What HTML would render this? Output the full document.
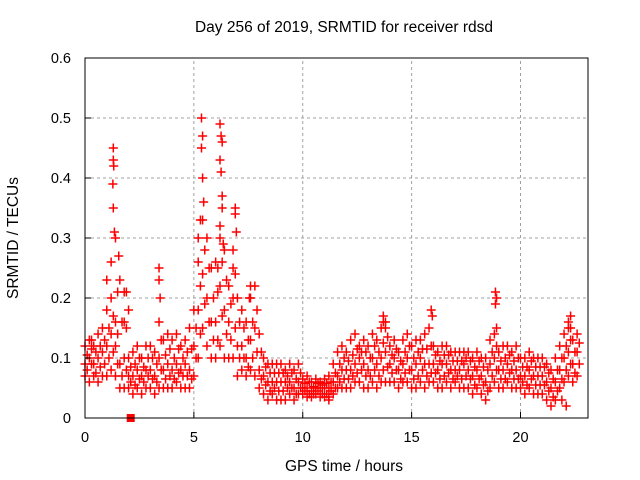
<!DOCTYPE html>
<html><head><meta charset="utf-8"><style>
body{margin:0;background:#fff}
svg{display:block;font-family:"Liberation Sans",sans-serif}
</style></head><body>
<svg id="chart" width="640" height="480" viewBox="0 0 640 480">
<text x="344" y="32" font-size="15.5" text-anchor="middle">Day 256 of 2019, SRMTID for receiver rdsd</text>
<text transform="translate(18,238) rotate(-90)" font-size="15.5" text-anchor="middle">SRMTID / TECUs</text>
<text x="344" y="471" font-size="15.5" text-anchor="middle">GPS time / hours</text>
<g id="grid"></g>
<g id="marks"></g>
<rect x="85" y="58" width="503" height="360" fill="none" stroke="#000" stroke-width="1"/>
<g id="axes"></g>
</svg>
<script>
const xTicks=[0,5,10,15,20];
const yTicks=[0,0.1,0.2,0.3,0.4,0.5,0.6];
const yTickLabels=["0","0.1","0.2","0.3","0.4","0.5","0.6"];
const binStart=0, binStep=0.2;
const lowVals=[.07,.06,.07,.06,.07, .07,.08,.07,.05,.05, .05,.04,.05,.04,.05, .05,.04,.05,.05,.05, .05,.06,.05,.05,.05, .07,.1,.15,.12,.1, .1,.12,.1,.1,.1, .07,.08,.07,.08,.07, .05,.04,.03,.04,.03, .03,.03,.04,.03,.04, .04,.035,.035,.04,.035, .035,.035,.04,.05,.05, .05,.05,.06,.06,.05, .05,.06,.05,.06,.06, .06,.06,.05,.06,.06, .05,.05,.06,.05,.06, .06,.05,.05,.06,.05, .06,.05,.05,.05,.04, .05,.04,.03,.05,.06, .05,.05,.06,.05,.05, .05,.04,.05,.04,.04, .04,.03,.02,.03,.05, .06,.07,.06,.07];
const q1Vals=[.08,.09,.075,.085,.09, .1,.11,.09,.07,.08, .06,.055,.065,.06,.07, .065,.06,.08,.065,.07, .065,.075,.07,.07,.065, .1,.14,.19,.16,.13, .13,.17,.14,.13,.15, .1,.1,.085,.1,.11, .065,.055,.045,.05,.045, .045,.05,.05,.04,.05, .045,.04,.04,.045,.04, .04,.045,.05,.06,.065, .065,.07,.075,.08,.07, .07,.08,.07,.08,.085, .075,.08,.065,.075,.08, .065,.07,.08,.07,.075, .075,.065,.07,.075,.065, .07,.065,.07,.065,.055, .065,.055,.045,.07,.08, .065,.065,.075,.065,.065, .06,.055,.065,.055,.055, .055,.045,.035,.045,.065, .08,.09,.075,.09];
const midVals=[.09,.10,.09,.10,.11, .12,.14,.12,.09,.10, .07,.07,.08,.07,.08, .08,.07,.1,.08,.09, .08,.09,.08,.09,.08, .12,.18,.24,.2,.16, .16,.22,.18,.16,.2, .12,.12,.1,.13,.15, .08,.07,.06,.06,.06, .06,.06,.06,.05,.06, .05,.05,.045,.05,.05, .05,.05,.06,.07,.08, .08,.08,.09,.1,.09, .08,.1,.09,.1,.11, .09,.1,.08,.09,.1, .08,.09,.1,.09,.09, .09,.08,.09,.09,.08, .08,.08,.09,.08,.07, .08,.07,.06,.09,.1, .08,.08,.09,.08,.08, .07,.07,.08,.07,.07, .07,.06,.05,.06,.08, .1,.11,.09,.11];
const q3Vals=[.105,.115,.11,.12,.13, .15,.17,.14,.16,.15, .085,.09,.1,.085,.1, .1,.09,.13,.105,.115, .1,.115,.1,.11,.115, .15,.22,.28,.25,.2, .21,.26,.23,.19,.24, .16,.15,.13,.16,.18, .11,.085,.075,.075,.075, .075,.07,.075,.065,.075, .058,.06,.052,.058,.055, .058,.06,.075,.09,.1, .095,.105,.115,.11,.11, .1,.12,.11,.125,.135, .105,.115,.095,.11,.12, .1,.11,.115,.115,.12, .105,.095,.105,.105,.095, .095,.095,.1,.095,.085, .095,.085,.08,.11,.12, .095,.1,.105,.095,.1, .085,.085,.095,.085,.085, .085,.075,.065,.08,.1, .12,.13,.11,.125];
const highVals=[.12,.13,.12,.14,.15, .18,.2,.16,.23,.21, .1,.11,.12,.1,.12, .12,.11,.16,.13,.14, .13,.14,.12,.13,.15, .18,.26,.33,.3,.25, .26,.3,.28,.22,.28, .2,.18,.16,.2,.22, .14,.1,.09,.09,.09, .09,.08,.09,.08,.09, .065,.07,.06,.065,.06, .065,.07,.09,.11,.12, .11,.13,.14,.12,.13, .12,.14,.13,.15,.16, .12,.13,.11,.13,.14, .12,.13,.13,.14,.15, .12,.11,.12,.12,.11, .11,.11,.11,.11,.1, .11,.1,.1,.13,.14, .11,.12,.12,.11,.12, .1,.1,.11,.1,.1, .1,.09,.08,.1,.12, .14,.15,.13,.14];
const outTimes=[0.3,1.0,1.2,1.3,1.3,1.32,1.28,1.3,1.35,1.4,1.55,1.5,1.9,1.8,2.0,3.4,3.4,3.45,5.35,5.4,5.35,5.4,5.3,5.45,5.2,6.2,6.25,6.3,6.2,6.25,6.3,6.3,6.2,6.35,6.1,6.9,6.9,6.95,6.8,7.6,7.55,11.2,13.7,13.7,13.8,15.9,15.95,18.85,18.9,18.85,18.9,22.3,22.2,22.3,21.9,22.1];
const outVals=[.13,.23,.26,.45,.43,.42,.39,.35,.31,.3,.27,.21,.21,.16,.18,.25,.23,.2,.5,.47,.45,.4,.33,.36,.3,.49,.47,.46,.43,.41,.37,.35,.32,.29,.25,.35,.34,.31,.25,.22,.2,.03,.17,.16,.15,.18,.17,.21,.2,.19,.15,.17,.16,.15,.03,.02];

const X0=85,X1=588,Y0=418,Y1=58,XMAX=23.1,YMAX=0.6;
const sx=v=>X0+v/XMAX*(X1-X0);
const sy=v=>Y0-v/YMAX*(Y0-Y1);
const NS="http://www.w3.org/2000/svg";
const grid=document.getElementById('grid'),axes=document.getElementById('axes'),marks=document.getElementById('marks');
function mk(t,a){const e=document.createElementNS(NS,t);for(const k in a)e.setAttribute(k,a[k]);return e;}
xTicks.forEach(t=>{
  const x=sx(t);
  if(t>0){const g=mk('line',{x1:x,x2:x,y1:Y0,y2:Y1,stroke:'#a0a0a0','stroke-dasharray':'3,3'});
  
  
  grid.appendChild(g);}
  const tk=mk('line',{x1:x,x2:x,y1:Y0,y2:Y0-6,stroke:'#000'});
  
  
  axes.appendChild(tk);
  const lb=mk('text',{x:x,y:Y0+24,'font-size':14.5,'text-anchor':'middle'});lb.textContent=String(t);
  
  
  axes.appendChild(lb);
});
yTicks.forEach((t,i)=>{
  const y=sy(t);
  if(t>0&&t<YMAX){const g=mk('line',{x1:X0,x2:X1,y1:y,y2:y,stroke:'#a0a0a0','stroke-dasharray':'3,3'});
  
  
  grid.appendChild(g);}
  const tk=mk('line',{x1:X0,x2:X0+6,y1:y,y2:y,stroke:'#000'});
  
  
  axes.appendChild(tk);
  const lb=mk('text',{x:X0-14,y:y+5,'font-size':14.5,'text-anchor':'end'});lb.textContent=yTickLabels[i];
  
  
  axes.appendChild(lb);
});
function plus(t,v){
  const x=sx(t),y=sy(v);
  const p=mk('path',{d:`M${x-4.5},${y}h9M${x},${y-4.5}v9`,stroke:'#ff0000','stroke-width':1.5,fill:'none'});
  
  
  marks.appendChild(p);
}
[lowVals,midVals,highVals].forEach(arr=>arr.forEach((v,i)=>plus(binStart+i*binStep,v)));
[q1Vals,q3Vals].forEach(arr=>arr.forEach((v,i)=>plus(binStart+(i+0.5)*binStep,v)));
outTimes.forEach((t,i)=>plus(t,outVals[i]));
const sq=mk('rect',{x:sx(2.1)-4,y:Y0-4,width:8,height:8,fill:'#ff0000'});


marks.appendChild(sq);
</script>
</body></html>
